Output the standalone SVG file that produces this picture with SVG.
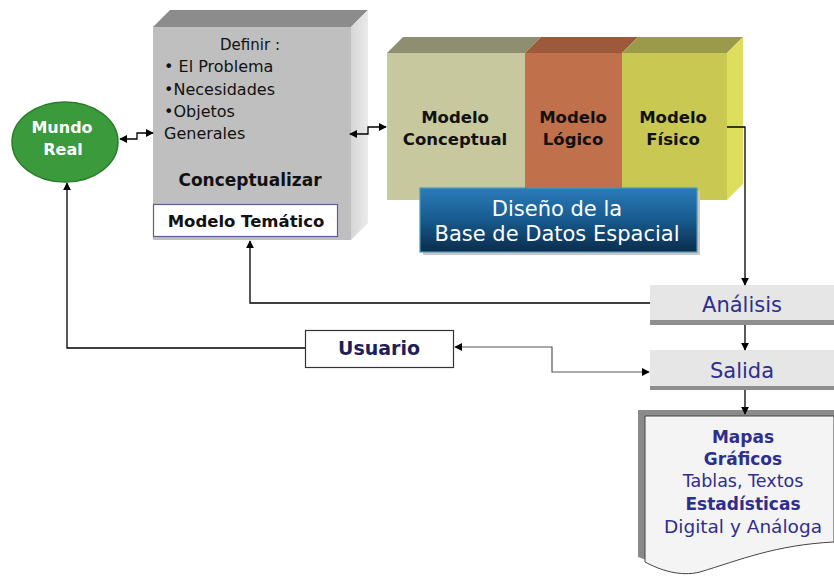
<svg xmlns="http://www.w3.org/2000/svg" width="834" height="576" viewBox="0 0 834 576">
<defs>
<style>
.t{font-family:"DejaVu Sans",Verdana,sans-serif}
.b{font-weight:bold}
.c{stroke:#000;stroke-width:1.3;fill:none}
.g{stroke:#555;stroke-width:1.2;fill:none}
.blue{fill:#2e2e8c}
</style>
<marker id="ah" viewBox="0 0 10 10" refX="9" refY="5" markerWidth="8" markerHeight="8" markerUnits="userSpaceOnUse" orient="auto-start-reverse">
<path d="M0,0 L10,5 L0,10 Z" fill="#000"/>
</marker>
<linearGradient id="bg" x1="0" y1="0" x2="0" y2="1">
<stop offset="0" stop-color="#2b7bb9"/>
<stop offset="0.5" stop-color="#175a8e"/>
<stop offset="1" stop-color="#0a2c4c"/>
</linearGradient>
<linearGradient id="side" x1="0" y1="0" x2="1" y2="0">
<stop offset="0" stop-color="#d6d6d6"/>
<stop offset="1" stop-color="#ebebeb"/>
</linearGradient>
</defs>
<rect width="834" height="576" fill="#fff"/>

<g id="mundo-real">
<ellipse cx="65" cy="142" rx="53" ry="40" fill="#3b9a3b" stroke="#2b7d2b" stroke-width="1.5"/>
<text class="t b" x="62" y="133" font-size="16" fill="#fff" text-anchor="middle">Mundo</text>
<text class="t b" x="63" y="155" font-size="16" fill="#fff" text-anchor="middle">Real</text>
</g>

<g id="conceptualizar">
<polygon points="153,27 170,10 368,10 351,27" fill="#8c8c8c"/>
<polygon points="351,27 368,10 368,223 351,240" fill="url(#side)"/>
<rect x="153" y="27" width="198" height="213" fill="#bfbfbf"/>
<text class="t" x="250" y="50" font-size="15" fill="#111" text-anchor="middle">Definir :</text>
<text class="t" x="164" y="72" font-size="16" fill="#111">• El Problema</text>
<text class="t" x="164" y="95" font-size="16" fill="#111">•Necesidades</text>
<text class="t" x="164" y="117" font-size="16" fill="#111">•Objetos</text>
<text class="t" x="164" y="139" font-size="16" fill="#111">Generales</text>
<text class="t b" x="250" y="186" font-size="17" fill="#111" text-anchor="middle">Conceptualizar</text>
</g>

<g id="modelo-tematico">
<rect x="153.5" y="204.5" width="184" height="32" fill="#fff" stroke="#5c5c9c" stroke-width="1.2"/>
<text class="t b" x="246" y="227" font-size="16.5" fill="#111" text-anchor="middle">Modelo Temático</text>
</g>

<g id="diseno-bloque">
<polygon points="387,53 403,37 541,37 525,53" fill="#8e8e70"/>
<polygon points="525,53 541,37 638,37 622,53" fill="#9c5a3a"/>
<polygon points="622,53 638,37 743,37 727,53" fill="#9a9a4a"/>
<polygon points="727,53 743,37 743,184 727,200" fill="#dede5e"/>
<rect x="387" y="53" width="138" height="147" fill="#c8c89e"/>
<rect x="525" y="53" width="97" height="147" fill="#c0704a"/>
<rect x="622" y="53" width="105" height="147" fill="#c8c852"/>
</g>

<g id="modelo-conceptual">
<text class="t b" x="455" y="123" font-size="16.5" fill="#111" text-anchor="middle">Modelo</text>
<text class="t b" x="455" y="145" font-size="16.5" fill="#111" text-anchor="middle">Conceptual</text>
</g>
<g id="modelo-logico">
<text class="t b" x="573" y="123" font-size="16.5" fill="#111" text-anchor="middle">Modelo</text>
<text class="t b" x="573" y="145" font-size="16.5" fill="#111" text-anchor="middle">Lógico</text>
</g>
<g id="modelo-fisico">
<text class="t b" x="673" y="123" font-size="16.5" fill="#111" text-anchor="middle">Modelo</text>
<text class="t b" x="673" y="145" font-size="16.5" fill="#111" text-anchor="middle">Físico</text>
</g>

<g id="diseno-bd">
<rect x="423" y="191" width="277" height="64" fill="#c8c8c8"/>
<rect x="420" y="188" width="277" height="64" fill="url(#bg)" stroke="#4a9ab8" stroke-width="1.2"/>
<text class="t" x="557" y="216" font-size="21" fill="#fff" text-anchor="middle">Diseño de la</text>
<text class="t" x="557" y="241" font-size="21" fill="#fff" text-anchor="middle">Base de Datos Espacial</text>
</g>

<g id="analisis">
<rect x="650" y="285" width="184" height="40" fill="#e6e6e6"/>
<rect x="650" y="320" width="184" height="5" fill="#8e8e8e"/>
<text class="t blue" x="742" y="312" font-size="21" text-anchor="middle">Análisis</text>
</g>

<g id="salida">
<rect x="650" y="350" width="184" height="40" fill="#e6e6e6"/>
<rect x="650" y="386" width="184" height="4" fill="#8e8e8e"/>
<text class="t blue" x="742" y="378" font-size="21" text-anchor="middle">Salida</text>
</g>

<g id="usuario">
<rect x="305.5" y="330.5" width="148" height="37" fill="#fff" stroke="#333" stroke-width="1.2"/>
<text class="t b" x="379" y="355" font-size="19" fill="#1e1e5a" text-anchor="middle">Usuario</text>
</g>

<g id="documento">
<path d="M638,410 H834 V537 C775,540 740,555 700,567 C680,572 660,565 638,557 Z" fill="#8a8a8a"/>
<path d="M645,416 H834 V542 C775,545 740,560 700,572 C680,577 660,570 645,562 Z" fill="#f4f4f4" stroke="#444" stroke-width="1"/>
<text class="t b blue" x="743" y="443" font-size="17" text-anchor="middle">Mapas</text>
<text class="t b blue" x="743" y="465" font-size="17" text-anchor="middle">Gráficos</text>
<text class="t blue" x="743" y="487" font-size="17.5" text-anchor="middle">Tablas, Textos</text>
<text class="t b blue" x="743" y="510" font-size="17" text-anchor="middle">Estadísticas</text>
<text class="t blue" x="743" y="533" font-size="18.5" text-anchor="middle">Digital y Análoga</text>
</g>

<g id="connectors">
<path class="c" d="M120,139 H137 V133 H153" marker-start="url(#ah)" marker-end="url(#ah)"/>
<path class="c" d="M350,134 H368 V127 H386" marker-start="url(#ah)" marker-end="url(#ah)"/>
<path class="c" d="M727,127 H745 V285" marker-end="url(#ah)"/>
<path class="c" d="M745,325 V350" marker-end="url(#ah)"/>
<path class="c" d="M745,390 V414" marker-end="url(#ah)"/>
<path class="c" d="M650,303 H250 V241" marker-end="url(#ah)"/>
<path class="c" d="M305,348 H67 V183" marker-end="url(#ah)"/>
<path class="g" d="M455,347 H552 V372 H649" marker-start="url(#ah)" marker-end="url(#ah)"/>
</g>
</svg>
